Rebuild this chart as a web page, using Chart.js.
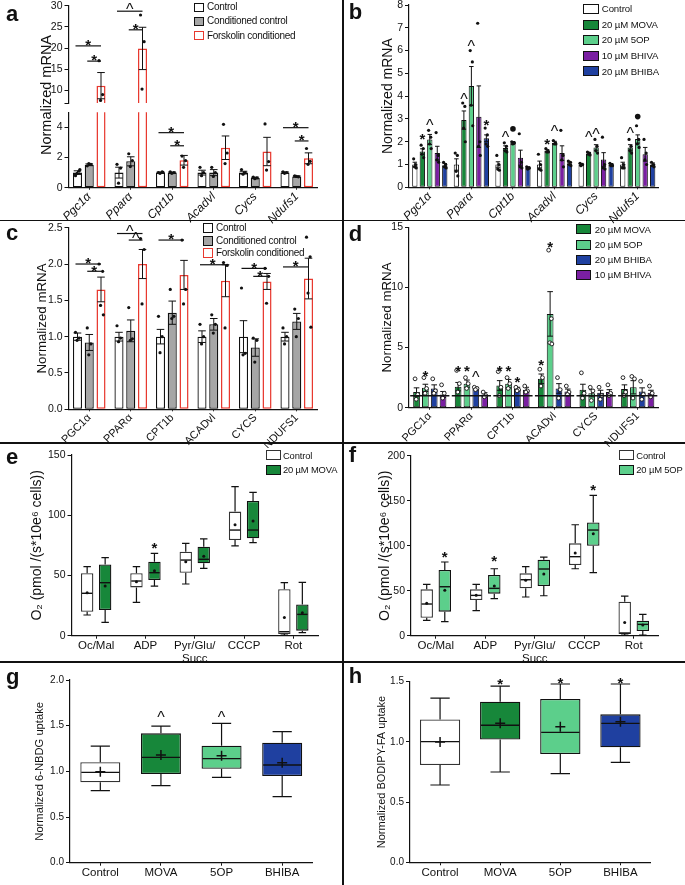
<!DOCTYPE html>
<html>
<head>
<meta charset="utf-8">
<title>Figure</title>
<script src="https://cdn.jsdelivr.net/npm/chart.js@4.4.1/dist/chart.umd.min.js"></script>
<style>
  html, body { margin: 0; padding: 0; background: #fff; }
  body { position: relative; width: 685px; height: 885px; overflow: hidden; font-family: "Liberation Sans", Arial, sans-serif; color: #111; }
  canvas { position: absolute; }
  .tag { position: absolute; font-weight: bold; font-size: 22px; line-height: 22px; z-index: 5; }
  .rule { position: absolute; background: #111; z-index: 5; }
  .key { position: absolute; z-index: 5; white-space: nowrap; }
  .sw { position: absolute; box-sizing: border-box; border: 1.3px solid #111; z-index: 5; }
</style>
</head>
<body>
<script>
const FONT = '"Liberation Sans", Arial, Helvetica, sans-serif';
Chart.defaults.font.family = FONT;
Chart.defaults.color = '#111';

const MOVA = '#17873a', OP5 = '#5ccf8b', BHIVA = '#7a1fa2', BHIBA = '#1f40a0', GREY = '#a6a6a6', RED = '#e8392f';

/* ---------- data ---------- */
const genesLow = ['Pgc1α', 'Pparα', 'Cpt1b', 'Acadvl', 'Cycs', 'Ndufs1'];
const genesUp = ['PGC1α', 'PPARα', 'CPT1b', 'ACADvl', 'CYCS', 'NDUFS1'];

// panel a
const aCtrl = [1.0, 1.0, 1.0, 1.0, 1.0, 1.0];
const aCtrlErr = [0.12, 0.36, 0.04, 0.16, 0.09, 0.05];
const aCond = [1.52, 1.75, 1.0, 1.0, 0.65, 0.75];
const aCondErr = [0.06, 0.3, 0.04, 0.2, 0.05, 0.04];
const aFsk = [11.1, 19.9, 1.82, 2.65, 2.4, 1.95];
const aFskErr = [3.1, 5.0, 0.32, 0.78, 0.94, 0.36];
const aCtrlDots = [[0.8, 1.1, 0.95, 1.2], [1.55, 1.3, 0.3], [1.0, 1.05, 0.95, 1.02], [1.35, 1.0, 0.8], [1.2, 1.0, 0.9], [1.05, 1.0, 0.95]];
const aCondDots = [[1.45, 1.55, 1.6], [2.25, 1.8, 1.4], [1.05, 1.0, 0.95], [1.35, 1.0, 0.75], [0.7, 0.65, 0.6], [0.78, 0.72, 0.75]];
const aFskDots = [[17, 9, 7.6], [27.8, 21.5, 10.3], [2.1, 1.8, 1.35], [4.2, 2.3, 1.6], [4.23, 1.73, 1.17], [2.6, 1.75, 1.55]];
const aSig = [[0, 0, 2, 20.5, '*'], [0, 1, 2, 16.9, '*'], [1, 0, 2, 28.7, '^'], [1, 1, 2, 24.3, '*'],
              [2, 0, 2, 3.65, '*'], [2, 1, 2, 2.78, '*'], [5, 0, 2, 3.98, '*'], [5, 1, 2, 3.1, '*']];

// panel b
const bCtrl = [1.0, 1.0, 1.0, 1.0, 1.0, 1.0];
const bCtrlErr = [0.1, 0.25, 0.12, 0.15, 0.05, 0.1];
const bMova = [1.57, 2.95, 1.72, 1.6, 1.48, 1.75];
const bMovaErr = [0.12, 0.4, 0.1, 0.05, 0.04, 0.12];
const b5op = [2.1, 4.45, 1.95, 1.95, 1.75, 2.12];
const b5opErr = [0.22, 0.85, 0.06, 0.07, 0.12, 0.18];
const bBhiva = [1.5, 3.1, 1.3, 1.5, 1.22, 1.45];
const bBhivaErr = [0.3, 1.35, 0.33, 0.32, 0.3, 0.3];
const bBhiba = [0.97, 2.15, 0.85, 1.05, 1.0, 1.0];
const bBhibaErr = [0.07, 0.15, 0.04, 0.05, 0.04, 0.07];
const bCtrlDots = [[1.25, 1.0, 0.9, 0.85], [1.5, 1.4, 0.7, 0.5], [1.4, 1.0, 0.8, 0.75], [1.45, 1.0, 0.8, 0.75], [1.05, 1.0, 0.95, 1.0], [1.3, 1.0, 0.85, 0.85]];
const bMovaDots = [[1.85, 1.7, 1.45, 1.3], [3.7, 3.55, 2.6, 2.0], [1.95, 1.8, 1.6, 1.55], [1.7, 1.6, 1.55, 1.55], [1.55, 1.5, 1.45, 1.42], [2.1, 1.8, 1.6, 1.5]];
const b5opDots = [[2.5, 2.2, 1.9, 1.7], [6.0, 5.5, 3.6, 2.7], [2.0, 1.95, 1.9, 1.95], [2.05, 1.95, 1.9, 1.9], [2.1, 1.8, 1.6, 1.5], [2.7, 2.1, 1.9, 1.75]];
const bBhivaDots = [[2.4, 1.4, 1.2, 1.1], [7.2, 2.0, 1.8, 1.4], [2.35, 1.1, 0.9, 0.85], [2.5, 1.4, 1.2, 0.9], [2.2, 1.0, 0.85, 0.8], [2.1, 1.5, 1.2, 1.0]];
const bBhibaDots = [[1.1, 1.0, 0.9, 0.85], [2.6, 2.3, 1.9, 1.8], [0.9, 0.85, 0.8, 0.85], [1.15, 1.1, 1.0, 0.95], [1.05, 1.0, 0.95, 0.95], [1.1, 1.0, 0.95, 0.9]];
const bMarks = [[0, 1, '*', 2.15], [0, 2, '^', 2.7], [1, 1, '^', 3.83], [1, 2, '^', 6.17], [1, 4, '*', 2.78],
                [2, 1, '^', 2.16], [2, 2, '●', 2.44], [3, 1, '*', 1.93], [3, 2, '^', 2.44],
                [4, 1, '^', 2.18], [4, 2, '^', 2.32], [5, 1, '^', 2.37], [5, 2, '●', 2.98]];

// panel c
const cCtrl = [1.0, 1.0, 1.0, 1.0, 1.0, 1.0];
const cCtrlErr = [0.05, 0.06, 0.1, 0.08, 0.22, 0.06];
const cCond = [0.92, 1.08, 1.33, 1.17, 0.85, 1.21];
const cCondErr = [0.11, 0.15, 0.16, 0.08, 0.12, 0.11];
const cFsk = [1.65, 2.0, 1.85, 1.77, 1.76, 1.8];
const cFskErr = [0.17, 0.2, 0.2, 0.22, 0.11, 0.28];
const cCtrlDots = [[1.06, 0.98, 0.95], [1.15, 0.98, 0.93], [1.28, 1.0, 0.78], [1.17, 1.0, 0.9], [1.67, 0.77, 0.75], [1.12, 1.0, 0.9]];
const cCondDots = [[1.12, 0.9, 0.75], [1.4, 0.97, 0.95], [1.65, 1.28, 1.25], [1.3, 1.17, 1.05], [0.98, 0.95, 0.65], [1.38, 1.25, 1.0]];
const cFskDots = [[2.0, 1.9, 1.43, 1.3], [2.35, 2.2, 1.45], [2.33, 1.65, 1.45], [2.02, 1.98, 1.12], [1.94, 1.83, 1.46], [2.37, 2.1, 1.6, 1.13]];
const cSig = [[0, 0, 2, 2.0, '*'], [0, 1, 2, 1.9, '*'], [1, 0, 2, 2.42, '^'], [1, 1, 2, 2.33, '^'],
              [2, 0, 2, 2.33, '*'], [3, 0, 2, 1.99, '*'], [4, 0, 2, 1.94, '*'], [4, 1, 2, 1.83, '*'], [5, 0, 2, 1.96, '*']];

// panel d
const dMova = [1.3, 1.75, 1.85, 2.4, 1.5, 1.55];
const dMovaErr = [0.35, 0.35, 0.4, 0.4, 0.45, 0.35];
const d5op = [1.65, 2.0, 2.0, 7.8, 1.2, 1.7];
const d5opErr = [0.3, 0.3, 0.35, 1.85, 0.3, 0.55];
const dBhiba = [1.6, 1.6, 1.55, 1.6, 1.25, 1.35];
const dBhibaErr = [0.3, 0.1, 0.15, 0.4, 0.2, 0.3];
const dBhiva = [1.1, 1.1, 1.5, 1.35, 1.3, 1.25];
const dBhivaErr = [0.25, 0.15, 0.2, 0.2, 0.2, 0.2];
const dMovaDots = [[2.4, 1.1, 0.7], [3.1, 2.0, 1.3], [3.0, 1.7, 1.0], [3.2, 2.5, 1.8], [2.9, 1.2, 0.8], [2.5, 1.3, 1.0]];
const d5opDots = [[2.5, 1.6, 1.2], [2.5, 2.0, 1.6], [2.5, 2.0, 1.6], [13.1, 7.4, 5.4, 5.3], [1.7, 1.4, 0.6], [2.6, 2.4, 0.8]];
const dBhibaDots = [[2.4, 1.4, 1.2], [1.7, 1.6, 1.5], [1.7, 1.5, 1.4], [2.5, 1.5, 0.8], [1.7, 1.0, 0.7], [2.2, 1.1, 0.7]];
const dBhivaDots = [[1.9, 1.2, 0.8], [1.3, 1.0, 0.9], [1.8, 1.4, 1.3], [1.8, 1.3, 1.1], [1.9, 1.2, 1.0], [1.8, 1.2, 0.9]];
const dMarks = [[0, 1, '*', 2.72], [1, 0, '*', 3.13], [1, 1, '*', 3.13], [1, 2, '^', 2.52],
                [2, 0, '*', 3.13], [2, 1, '*', 3.13], [2, 2, '*', 2.2], [3, 0, '*', 3.63], [3, 1, '*', 13.4]];

// panels e / f : [min, q1, median, q3, max]
const respCats = ['Oc/Mal', 'ADP', ['Pyr/Glu/', 'Succ'], 'CCCP', 'Rot'];
const eCtrl = [[17.2, 19.9, 35.2, 51.8, 57.3], [27.7, 40.1, 45.4, 51.8, 57.3], [42.9, 52.3, 62.8, 69.7, 76.7], [74.5, 79.4, 87.7, 103, 123.7], [0.5, 1.4, 3.3, 38.5, 44]];
const eCtrlMean = [35.7, 44.8, 61.4, 92.2, 15.2];
const eMova = [[11.1, 21.3, 44, 59.2, 64.8], [41.2, 46.2, 52.3, 61.4, 68.4], [55.9, 60.1, 63.4, 73.9, 80.3], [77.2, 80.8, 87.7, 111.8, 119], [2.5, 4.2, 17.7, 26, 44.3]];
const eMovaMean = [41.2, 54, 66, 95.2, 19.1];
const eMarks = [[1, 1, '*', 73.9]];
const fCtrl = [[17, 20, 35.2, 51.5, 57], [27.8, 39.6, 44.8, 51.5, 57], [43, 52.6, 62.2, 69.3, 76.7], [74.4, 78.5, 87.8, 102.6, 123.3], [0.7, 1.9, 3, 37.8, 44]];
const fCtrlMean = [36, 45, 61.5, 91.9, 14.8];
const f5op = [[15.6, 26.7, 54.4, 73, 81.9], [41.1, 46.7, 52.6, 67.4, 74.4], [44.4, 55.2, 74.1, 84.4, 87.4], [70, 100, 117.4, 125.9, 155.9], [0.7, 5.2, 12.6, 16.7, 23.7]];
const f5opMean = [50.4, 55.2, 68.5, 113.3, 11.9];
const fMarks = [[0, 1, '*', 88.6], [1, 1, '*', 84.1], [3, 1, '*', 162.7]];

// panels g / h
const uptakeCats = ['Control', 'MOVA', '5OP', 'BHIBA'];
const gBox = [[0.788, 0.88, 0.989, 1.099, 1.277], [0.843, 0.971, 1.153, 1.416, 1.496], [0.934, 1.029, 1.139, 1.281, 1.526], [0.723, 0.949, 1.069, 1.314, 1.434]];
const gMean = [0.996, 1.179, 1.172, 1.095];
const gMarks = [[1, 0, '^', 1.59], [2, 0, '^', 1.59]];
const hBox = [[0.642, 0.808, 1.002, 1.187, 1.364], [0.75, 1.019, 1.138, 1.334, 1.464], [0.736, 0.9, 1.079, 1.356, 1.481], [0.83, 0.955, 1.154, 1.229, 1.481]];
const hMean = [1.0, 1.154, 1.126, 1.168];
const hMarks = [[1, 0, '*', 1.487], [2, 0, '*', 1.5], [3, 0, '*', 1.5]];

/* ---------- helpers ---------- */
const JIT = [-0.22, 0.18, -0.05, 0.26, 0.05];

function drawSym(ctx, sym, x, yb) {
  ctx.textAlign = 'center';
  ctx.textBaseline = 'alphabetic';
  if (sym === '●') {
    ctx.beginPath(); ctx.arc(x, yb - 2.8, 2.8, 0, 2 * Math.PI); ctx.fill();
  } else if (sym === '^') {
    ctx.font = '16px ' + FONT;
    ctx.fillText('^', x, yb + 0.33 * 16);
  } else {
    ctx.font = 'bold 15px ' + FONT;
    ctx.fillText('*', x, yb + 0.39 * 15);
  }
}

function yAxis(o) {
  const ax = {
    min: o.min, max: o.max,
    ticks: { stepSize: o.step, font: { size: o.tickSize || 10.5 }, color: '#111', padding: 2 },
    grid: { drawOnChartArea: false, tickLength: 4, color: '#111', lineWidth: 1 },
    border: { color: '#111', width: 1.2 },
    title: { display: !!o.title, text: o.title, font: { size: o.tsize }, color: '#111', padding: 0 }
  };
  if (o.fmt) ax.ticks.callback = o.fmt;
  if (o.ticks) ax.afterBuildTicks = s => { s.ticks = o.ticks.map(v => ({ value: v })); };
  return ax;
}

function xAxis(font, rot, tick, pad) {
  return {
    ticks: { font: font, color: '#111', maxRotation: rot, minRotation: rot, autoSkip: false, padding: pad },
    grid: { offset: false, drawOnChartArea: false, tickLength: tick, color: '#111' },
    border: { color: '#111', width: 1.2 }
  };
}

function mount(box, area, tx, tsize, cfg, hideX) {
  const [bx, by, bw, bh] = box;
  const cv = document.createElement('canvas');
  cv.width = bw; cv.height = bh;
  cv.style.left = bx + 'px'; cv.style.top = by + 'px';
  cv.style.width = bw + 'px'; cv.style.height = bh + 'px';
  document.body.appendChild(cv);
  const sl = tx - tsize * 0.6;
  const yw = area[0] - sl;
  const xh = by + bh - area[3];
  const op = cfg.options;
  Object.assign(op, { responsive: false, animation: false, devicePixelRatio: 1, events: [] });
  op.plugins = { legend: { display: false }, tooltip: { enabled: false } };
  op.layout = { padding: { left: sl - bx, top: area[1] - by, right: bx + bw - area[2], bottom: hideX ? xh : 0 } };
  op.scales.y.afterFit = s => { s.width = yw; s.paddingTop = 0; s.paddingBottom = 0; s.paddingLeft = 0; s.paddingRight = 0; };
  op.scales.x.afterFit = s => { if (!hideX) s.height = xh; s.paddingLeft = 0; s.paddingRight = 0; s.paddingTop = 0; s.paddingBottom = 0; };
  if (hideX) op.scales.x.display = false;
  return new Chart(cv, cfg);
}

function barPanel(o) {
  const datasets = o.series.map(s => ({
    data: s.data, backgroundColor: s.fill, borderColor: s.stroke, borderWidth: s.bw,
    borderSkipped: false, barPercentage: o.barPct, categoryPercentage: o.catPct
  }));
  const deco = {
    id: 'deco',
    afterDatasetsDraw(chart) {
      const ctx = chart.ctx, ys = chart.scales.y, ca = chart.chartArea;
      const py = v => ys.getPixelForValue(v);
      const bar = (si, i) => chart.getDatasetMeta(si).data[i];
      ctx.save();
      ctx.beginPath();
      ctx.rect(ca.left - 30, ca.top - 1, ca.right - ca.left + 60, ca.bottom - ca.top + 1);
      ctx.clip();
      ctx.strokeStyle = '#111'; ctx.fillStyle = '#111';
      o.series.forEach((s, si) => {
        s.data.forEach((v, i) => {
          const b = bar(si, i), e = s.err[i], hw = b.width * 0.42;
          ctx.lineWidth = 1;
          ctx.beginPath();
          ctx.moveTo(b.x, py(v + e)); ctx.lineTo(b.x, py(v - e));
          ctx.moveTo(b.x - hw, py(v + e)); ctx.lineTo(b.x + hw, py(v + e));
          ctx.moveTo(b.x - hw, py(v - e)); ctx.lineTo(b.x + hw, py(v - e));
          ctx.stroke();
          s.dots[i].forEach((d, k) => {
            ctx.beginPath();
            ctx.arc(b.x + JIT[k % JIT.length] * b.width, py(d), o.hollow ? 1.9 : 1.6, 0, 2 * Math.PI);
            if (o.hollow) { ctx.fillStyle = '#fff'; ctx.fill(); ctx.lineWidth = 0.9; ctx.stroke(); ctx.fillStyle = '#111'; }
            else ctx.fill();
          });
        });
      });
      if (o.ref != null) {
        const n = o.series.length;
        o.labels.forEach((_, i) => {
          const f = bar(0, i), l = bar(n - 1, i);
          ctx.lineWidth = 1.5;
          ctx.beginPath();
          ctx.moveTo(f.x - f.width / 2 - 3, py(o.ref));
          ctx.lineTo(l.x + l.width / 2 + 3, py(o.ref));
          ctx.stroke();
        });
      }
      ctx.restore();
      ctx.save();
      ctx.fillStyle = '#111'; ctx.strokeStyle = '#111';
      (o.sig || []).forEach(([gi, sa, sb, v, sym]) => {
        if (v < ys.min || v > ys.max) return;
        const xa = bar(sa, gi).x - 2, xb = bar(sb, gi).x, yy = py(v);
        ctx.lineWidth = 1.2;
        ctx.beginPath(); ctx.moveTo(xa, yy); ctx.lineTo(xb, yy); ctx.stroke();
        drawSym(ctx, sym, (xa + xb) / 2, yy - 1.5);
      });
      (o.marks || []).forEach(([gi, si, sym, v]) => drawSym(ctx, sym, bar(si, gi).x, py(v)));
      if (o.sideTitle) {
        const [t, x, y, size] = o.sideTitle;
        ctx.translate(x - o.box[0], y - o.box[1]);
        ctx.rotate(-Math.PI / 2);
        ctx.font = size + 'px ' + FONT;
        ctx.textAlign = 'center'; ctx.textBaseline = 'middle';
        ctx.fillText(t, 0, 0);
      }
      ctx.restore();
    }
  };
  const cfg = {
    type: 'bar',
    data: { labels: o.labels, datasets: datasets },
    options: { scales: { x: xAxis(o.xfont, 45, 2, 0), y: yAxis(o.y) } },
    plugins: [deco]
  };
  return mount(o.box, o.area, o.tx, o.y.tsize, cfg, o.hideX);
}

function boxPanel(o) {
  const datasets = o.groups.map(g => ({
    data: g.stats.map(s => [s[1], s[3]]),
    backgroundColor: g.fill, borderColor: g.stroke, borderWidth: 1.3,
    borderSkipped: false, barPercentage: o.barPct, categoryPercentage: o.catPct
  }));
  const deco = {
    id: 'boxDeco',
    afterDatasetsDraw(chart) {
      const ctx = chart.ctx, py = v => chart.scales.y.getPixelForValue(v);
      const bar = (di, i) => chart.getDatasetMeta(di).data[i];
      ctx.save();
      ctx.strokeStyle = '#111'; ctx.fillStyle = '#111';
      o.groups.forEach((g, gi) => {
        g.stats.forEach((st, i) => {
          const [lo, q1, med, q3, hi] = st;
          const b = bar(gi, i), half = b.width / 2, cap = b.width * o.cap / 2;
          ctx.lineWidth = 1.2;
          ctx.beginPath();
          ctx.moveTo(b.x, py(q3)); ctx.lineTo(b.x, py(hi));
          ctx.moveTo(b.x - cap, py(hi)); ctx.lineTo(b.x + cap, py(hi));
          ctx.moveTo(b.x, py(q1)); ctx.lineTo(b.x, py(lo));
          ctx.moveTo(b.x - cap, py(lo)); ctx.lineTo(b.x + cap, py(lo));
          ctx.stroke();
          ctx.lineWidth = 1.4;
          ctx.beginPath(); ctx.moveTo(b.x - half + 1, py(med)); ctx.lineTo(b.x + half - 1, py(med)); ctx.stroke();
          const m = py(g.mean[i]);
          if (o.plus) {
            ctx.lineWidth = 1.5;
            ctx.beginPath();
            ctx.moveTo(b.x - 5, m); ctx.lineTo(b.x + 5, m);
            ctx.moveTo(b.x, m - 5); ctx.lineTo(b.x, m + 5);
            ctx.stroke();
          } else {
            ctx.beginPath(); ctx.arc(b.x, m, 1.5, 0, 2 * Math.PI); ctx.fill();
          }
        });
      });
      (o.marks || []).forEach(([ci, di, sym, v]) => drawSym(ctx, sym, bar(di, ci).x, py(v)));
      ctx.restore();
    }
  };
  const cfg = {
    type: 'bar',
    data: { labels: o.labels, datasets: datasets },
    options: { scales: { x: xAxis({ size: 11.5, lineHeight: 1.1 }, 0, 3, 1), y: yAxis(o.y) } },
    plugins: [deco]
  };
  return mount(o.box, o.area, o.tx, o.y.tsize, cfg, false);
}

function legend(x, yc, dy, w, h, size, gap, items, spacing) {
  items.forEach(([txt, fill, stroke], i) => {
    const c = yc + i * dy;
    const sw = document.createElement('div');
    sw.className = 'sw';
    sw.style.cssText = `left:${x}px;top:${c - h / 2}px;width:${w}px;height:${h}px;background:${fill};border-color:${stroke};`;
    document.body.appendChild(sw);
    const t = document.createElement('div');
    t.className = 'key';
    t.style.cssText = `left:${x + w + gap}px;top:${c - size * 0.6}px;font-size:${size}px;line-height:${size * 1.2}px;letter-spacing:${spacing || 0}px;`;
    t.textContent = txt;
    document.body.appendChild(t);
  });
}

function tag(ch, x, y) {
  const d = document.createElement('div');
  d.className = 'tag';
  d.style.left = x + 'px'; d.style.top = y + 'px';
  d.textContent = ch;
  document.body.appendChild(d);
}

function rule(x, y, w, h) {
  const d = document.createElement('div');
  d.className = 'rule';
  d.style.cssText = `left:${x}px;top:${y}px;width:${w}px;height:${h}px;`;
  document.body.appendChild(d);
}

/* ---------- panel a (broken axis: two stacked charts) ---------- */
const aSeries = [
  { data: aCtrl, err: aCtrlErr, dots: aCtrlDots, fill: '#fff', stroke: '#111', bw: 1.3 },
  { data: aCond, err: aCondErr, dots: aCondDots, fill: GREY, stroke: '#111', bw: 1.3 },
  { data: aFsk, err: aFskErr, dots: aFskDots, fill: '#fff', stroke: RED, bw: 1.5 }
];
barPanel({
  box: [0, 0, 342, 110], area: [68.5, 5.7, 317.5, 103], tx: 46.7, hideX: true,
  labels: genesLow, xfont: { size: 12, style: 'italic' }, series: aSeries, sig: aSig,
  barPct: 0.77, catPct: 0.85,
  y: { min: 7, max: 30, ticks: [7, 10, 15, 20, 25, 30], fmt: v => (v === 7 ? '' : v), tsize: 14.5 }
});
barPanel({
  box: [0, 0, 342, 226], area: [68.5, 112.3, 317.5, 187.7], tx: 46.7,
  labels: genesLow, xfont: { size: 12, style: 'italic' }, series: aSeries, sig: aSig,
  barPct: 0.77, catPct: 0.85, sideTitle: ['Normalized mRNA', 46.7, 95, 14.5],
  y: { min: 0, max: 5, step: 1, tsize: 14.5 }
});

/* ---------- panel b ---------- */
barPanel({
  box: [343, 0, 342, 226], area: [409, 5, 658.5, 187.3], tx: 388.3,
  labels: genesLow, xfont: { size: 12, style: 'italic' },
  series: [
    { data: bCtrl, err: bCtrlErr, dots: bCtrlDots, fill: '#fff', stroke: '#111', bw: 1 },
    { data: bMova, err: bMovaErr, dots: bMovaDots, fill: MOVA, stroke: '#111', bw: 1 },
    { data: b5op, err: b5opErr, dots: b5opDots, fill: OP5, stroke: '#111', bw: 1 },
    { data: bBhiva, err: bBhivaErr, dots: bBhivaDots, fill: BHIVA, stroke: '#111', bw: 1 },
    { data: bBhiba, err: bBhibaErr, dots: bBhibaDots, fill: BHIBA, stroke: '#111', bw: 1 }
  ],
  marks: bMarks, barPct: 0.71, catPct: 0.9,
  y: { min: 0, max: 8, step: 1, title: 'Normalized mRNA', tsize: 14 }
});

/* ---------- panel c ---------- */
barPanel({
  box: [0, 221, 342, 227], area: [68.5, 227.7, 317.5, 409.3], tx: 42.7,
  labels: genesUp, xfont: { size: 11 },
  series: [
    { data: cCtrl, err: cCtrlErr, dots: cCtrlDots, fill: '#fff', stroke: '#111', bw: 1.3 },
    { data: cCond, err: cCondErr, dots: cCondDots, fill: GREY, stroke: '#111', bw: 1.3 },
    { data: cFsk, err: cFskErr, dots: cFskDots, fill: '#fff', stroke: RED, bw: 1.5 }
  ],
  sig: cSig, barPct: 0.77, catPct: 0.85,
  y: { min: 0, max: 2.5, step: 0.5, fmt: v => v.toFixed(1), title: 'Normalized mRNA', tsize: 13.3 }
});

/* ---------- panel d ---------- */
barPanel({
  box: [343, 221, 342, 227], area: [409, 227.3, 658.5, 407.7], tx: 387.3,
  labels: genesUp, xfont: { size: 11 }, hollow: true, ref: 1,
  series: [
    { data: dMova, err: dMovaErr, dots: dMovaDots, fill: MOVA, stroke: '#111', bw: 1 },
    { data: d5op, err: d5opErr, dots: d5opDots, fill: OP5, stroke: '#111', bw: 1 },
    { data: dBhiba, err: dBhibaErr, dots: dBhibaDots, fill: BHIBA, stroke: '#111', bw: 1 },
    { data: dBhiva, err: dBhivaErr, dots: dBhivaDots, fill: BHIVA, stroke: '#111', bw: 1 }
  ],
  marks: dMarks, barPct: 0.76, catPct: 0.85,
  y: { min: 0, max: 15, step: 5, title: 'Normalized mRNA', tsize: 13.3 }
});

/* ---------- panels e / f ---------- */
const o2Title = 'O₂ (pmol /(s*10e⁶ cells))';
boxPanel({
  box: [0, 443, 342, 224], area: [71.5, 455, 318, 635.7], tx: 37,
  labels: respCats, barPct: 0.69, catPct: 0.73, cap: 0.6, marks: eMarks,
  groups: [
    { stats: eCtrl, mean: eCtrlMean, fill: '#fff', stroke: '#333' },
    { stats: eMova, mean: eMovaMean, fill: MOVA, stroke: '#111' }
  ],
  y: { min: 0, max: 150, step: 50, title: o2Title, tsize: 14 }
});
boxPanel({
  box: [343, 443, 342, 224], area: [411, 455.7, 658.5, 635.7], tx: 385,
  labels: respCats, barPct: 0.69, catPct: 0.73, cap: 0.6, marks: fMarks,
  groups: [
    { stats: fCtrl, mean: fCtrlMean, fill: '#fff', stroke: '#333' },
    { stats: f5op, mean: f5opMean, fill: OP5, stroke: '#111' }
  ],
  y: { min: 0, max: 200, step: 50, title: o2Title, tsize: 14 }
});

/* ---------- panels g / h ---------- */
const upFill = ['#fff', MOVA, OP5, BHIBA];
const upStroke = ['#333', '#111', '#111', '#111'];
boxPanel({
  box: [0, 661, 342, 224], area: [70, 680, 312.5, 862.7], tx: 40,
  labels: uptakeCats, barPct: 0.66, catPct: 1, cap: 0.48, plus: true, marks: gMarks,
  groups: [{ stats: gBox, mean: gMean, fill: upFill, stroke: upStroke }],
  y: { min: 0, max: 2, step: 0.5, fmt: v => v.toFixed(1), tickSize: 10, title: 'Normalized 6-NBDG uptake', tsize: 11.2 }
});
boxPanel({
  box: [343, 661, 342, 224], area: [410, 681.7, 650.5, 862.3], tx: 381.7,
  labels: uptakeCats, barPct: 0.67, catPct: 1, cap: 0.48, plus: true, marks: hMarks,
  groups: [{ stats: hBox, mean: hMean, fill: upFill, stroke: upStroke }],
  y: { min: 0, max: 1.5, step: 0.5, fmt: v => v.toFixed(1), tickSize: 10, title: 'Normalized BODIPY-FA uptake', tsize: 11 }
});

/* ---------- legends, letters, rules ---------- */
legend(194, 7.2, 14.2, 10, 9, 10, 3, [['Control', '#fff', '#111'], ['Conditioned control', GREY, '#111'], ['Forskolin conditioned', '#fff', RED]], -0.3);
legend(583.3, 9, 15.6, 16, 10, 9.6, 2.5, [['Control', '#fff', '#111'], ['20 µM MOVA', MOVA, '#111'], ['20 µM 5OP', OP5, '#111'], ['10 µM BHIVA', BHIVA, '#111'], ['20 µM BHIBA', BHIBA, '#111']], -0.1);
legend(202.7, 228.3, 12.5, 10.7, 10, 10, 2.6, [['Control', '#fff', '#111'], ['Conditioned control', GREY, '#111'], ['Forskolin conditioned', '#fff', RED]], -0.3);
legend(576, 229.3, 15.2, 14.7, 10, 9.6, 4, [['20 µM MOVA', MOVA, '#111'], ['20 µM 5OP', OP5, '#111'], ['20 µM BHIBA', BHIBA, '#111'], ['10 µM BHIVA', BHIVA, '#111']], -0.1);
legend(265.7, 455.3, 14.7, 15.3, 10, 9.4, 2, [['Control', '#fff', '#333'], ['20 µM MOVA', MOVA, '#111']], -0.15);
legend(619, 455.3, 14.7, 15.3, 10, 9.4, 2, [['Control', '#fff', '#333'], ['20 µM 5OP', OP5, '#111']], -0.15);

tag('a', 6, 3.4); tag('b', 348.7, 1.4);
tag('c', 6, 221.6); tag('d', 348.7, 222.8);
tag('e', 6, 446.4); tag('f', 348.7, 444.4);
tag('g', 6, 666); tag('h', 348.7, 664.7);

rule(0, 219.8, 685, 1.5);
rule(0, 442, 685, 1.5);
rule(0, 661, 685, 1.5);
rule(342, 0, 1.5, 885);
</script>
</body>
</html>
